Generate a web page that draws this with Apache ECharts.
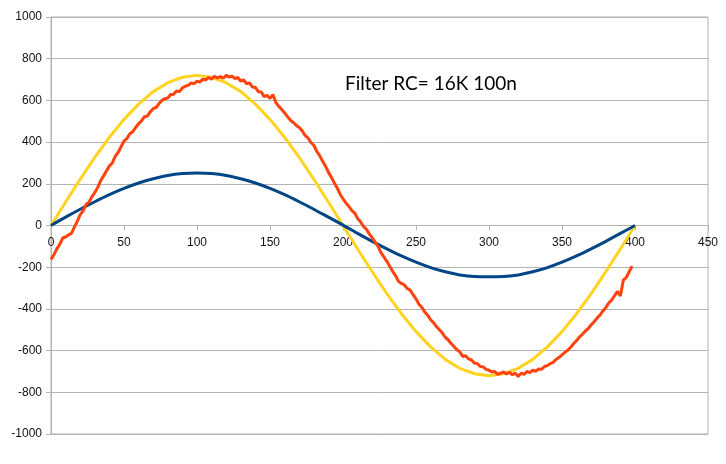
<!DOCTYPE html>
<html>
<head>
<meta charset="utf-8">
<script src="https://cdn.jsdelivr.net/npm/echarts@6/dist/echarts.min.js"></script>
<style>html,body{margin:0;padding:0;background:#fff;}#c{width:726px;height:464px;}</style>
</head>
<body>
<div id="c"></div>
<script>
// Smooth series sampled every 10 units
const smoothX = [0,10,20,30,40,50,60,70,80,90,100,110,120,130,140,150,160,170,180,190,200,210,220,230,240,250,260,270,280,290,300,310,320,330,340,350,360,370,380,390,400];
const yellowY = [0,113,222,327,423,509,582,642,685,711,720,711,685,642,582,509,423,327,222,113,0,-113,-222,-327,-423,-509,-582,-642,-685,-711,-721,-711,-685,-642,-582,-509,-423,-327,-222,-113,0];
const blueY = [0,40,78,114,148,178,204,224,240,249,252,249,240,224,204,178,148,114,78,40,2,-38,-76,-112,-146,-176,-202,-222,-237,-245,-246,-245,-237,-222,-202,-176,-146,-112,-76,-38,0];
// Noisy filtered series sampled every 2 units
const orangeX = [0,2,4,6,8,10,12,14,16,18,20,22,24,26,28,30,32,34,36,38,40,42,44,46,48,50,52,54,56,58,60,62,64,66,68,70,72,74,76,78,80,82,84,86,88,90,92,94,96,98,100,102,104,106,108,110,112,114,116,118,120,122,124,126,128,130,132,134,136,138,140,142,144,146,148,150,152,154,156,158,160,162,164,166,168,170,172,174,176,178,180,182,184,186,188,190,192,194,196,198,200,202,204,206,208,210,212,214,216,218,220,222,224,226,228,230,232,234,236,238,240,242,244,246,248,250,252,254,256,258,260,262,264,266,268,270,272,274,276,278,280,282,284,286,288,290,292,294,296,298,300,302,304,306,308,310,312,314,316,318,320,322,324,326,328,330,332,334,336,338,340,342,344,346,348,350,352,354,356,358,360,362,364,366,368,370,372,374,376,378,380,382,384,386,388,390,392,394,396,398];
const orangeY = [-163,-140,-112,-90,-60,-55,-45,-38,-8,20,52,70,100,112,138,158,182,215,238,262,286,300,332,350,378,405,418,440,450,470,488,502,522,525,545,560,566,585,600,608,612,628,630,645,642,660,668,672,684,680,692,688,702,698,710,702,716,708,714,706,720,712,716,704,710,692,698,680,684,664,662,642,640,618,624,610,628,590,572,556,540,522,505,494,480,470,455,432,420,398,385,356,335,308,285,256,232,205,180,150,128,108,92,72,60,34,18,-4,-18,-40,-58,-80,-100,-130,-150,-172,-196,-220,-240,-268,-278,-285,-302,-310,-332,-352,-378,-392,-415,-430,-452,-466,-485,-500,-515,-536,-548,-566,-580,-596,-606,-628,-625,-640,-645,-660,-662,-676,-678,-690,-694,-702,-700,-714,-708,-702,-712,-704,-716,-708,-724,-708,-714,-700,-706,-694,-700,-688,-690,-676,-672,-662,-656,-642,-632,-620,-608,-598,-584,-566,-552,-534,-522,-506,-494,-476,-462,-444,-430,-410,-394,-372,-358,-336,-316,-338,-262,-250,-222,-195];
const xTicks = {min:0, max:450, interval:50};
const yTicks = {min:-1000, max:1000, interval:200};
const noteText = 'Filter RC= 16K 100n';

const pairs = (xs, ys) => xs.map((x, i) => [x, ys[i]]);
const chart = echarts.init(document.getElementById('c'), null, {renderer:'canvas'});
const gray = '#b3b3b3';
const plotTop = 17, plotBottom = 30, plotH = 464 - plotTop - plotBottom;
const zeroOffset = -plotH * (0 - yTicks.min) / (yTicks.max - yTicks.min);
chart.setOption({
  animation:false,
  backgroundColor:'#fff',
  grid:{left:51, right:18, top:plotTop, bottom:plotBottom, show:true, borderColor:gray, borderWidth:1, backgroundColor:'transparent'},
  xAxis:{type:'value', min:xTicks.min, max:xTicks.max, interval:xTicks.interval, position:'bottom', offset:zeroOffset,
    axisLine:{show:true, onZero:false, lineStyle:{color:gray, width:1}},
    axisTick:{show:true, length:5, lineStyle:{color:gray}},
    axisLabel:{color:'#111', fontFamily:'Liberation Sans', fontSize:12, margin:11, formatter:v => String(v)},
    splitLine:{show:false}},
  yAxis:{type:'value', min:yTicks.min, max:yTicks.max, interval:yTicks.interval,
    axisLine:{show:true, lineStyle:{color:gray, width:1}},
    axisTick:{show:true, length:5, lineStyle:{color:gray}},
    axisLabel:{color:'#111', fontFamily:'Liberation Sans', fontSize:12, margin:9, formatter:v => String(v)},
    splitLine:{show:true, lineStyle:{color:gray, width:1}}},
  graphic:[{type:'text', left:345, top:74, style:{text:noteText, fontFamily:'Lato', fontSize:19, fill:'#000'}}],
  series:[
    {type:'line', data:pairs(smoothX, yellowY), showSymbol:false, lineStyle:{color:'#ffd320', width:3}, itemStyle:{color:'#ffd320'}, z:2},
    {type:'line', data:pairs(smoothX, blueY), showSymbol:false, smooth:0.3, lineStyle:{color:'#004586', width:3}, itemStyle:{color:'#004586'}, z:3},
    {type:'line', data:pairs(orangeX, orangeY), showSymbol:false, lineStyle:{color:'#ff420e', width:3}, itemStyle:{color:'#ff420e'}, z:4}
  ]
});
</script>
</body>
</html>
